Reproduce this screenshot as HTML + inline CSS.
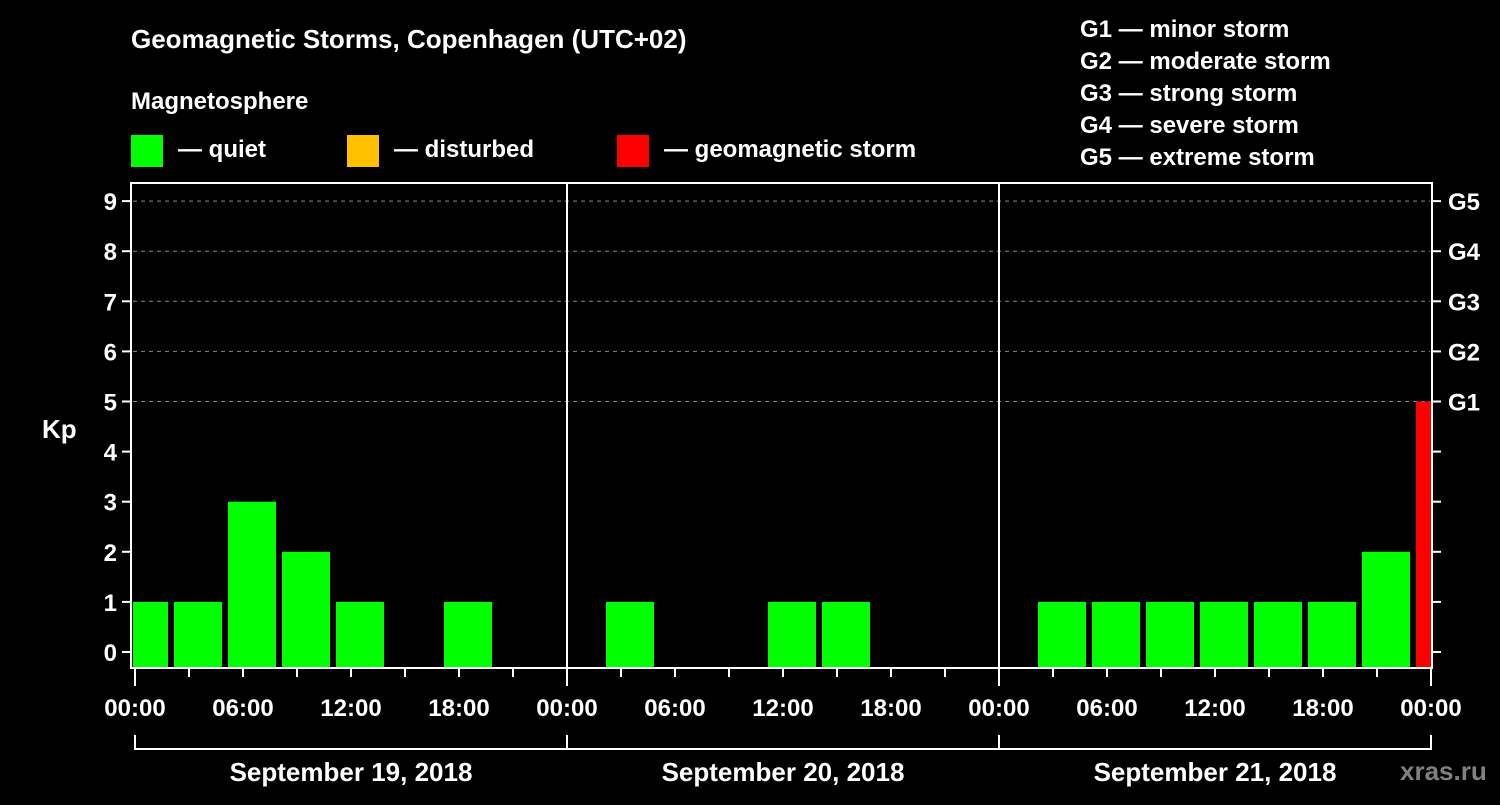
<!DOCTYPE html>
<html><head><meta charset="utf-8"><style>
body{margin:0;background:#000;width:1500px;height:800px;overflow:hidden;font-family:"Liberation Sans",sans-serif;}
svg text{font-family:"Liberation Sans",sans-serif;font-weight:bold;fill:#fff;}
</style></head><body>
<svg id="chart" width="1500" height="800">
<text x="131" y="48" font-size="26">Geomagnetic Storms, Copenhagen (UTC+02)</text>
<text x="131" y="109" font-size="24">Magnetosphere</text>
<g><rect x="131" y="135" width="32" height="32" fill="#00ff00"/><text x="178" y="157" font-size="24">— quiet</text></g>
<g><rect x="347" y="135" width="32" height="32" fill="#ffc000"/><text x="394" y="157" font-size="24">— disturbed</text></g>
<g><rect x="617" y="135" width="32" height="32" fill="#ff0000"/><text x="664" y="157" font-size="24">— geomagnetic storm</text></g>
<g font-size="24">
<text x="1080" y="37">G1 — minor storm</text>
<text x="1080" y="69">G2 — moderate storm</text>
<text x="1080" y="101">G3 — strong storm</text>
<text x="1080" y="133">G4 — severe storm</text>
<text x="1080" y="165">G5 — extreme storm</text>
</g>
<text x="42" y="438" font-size="26">Kp</text>
<text x="1400" y="780" font-size="26" fill="#808080" style="fill:#808080">xras.ru</text>
<g id="grid"></g><g id="bars"></g><g id="axes"></g>
</svg>
<script>
const kpValues=[1,1,3,2,1,0,1,0,0,1,0,0,1,1,0,0,0,1,1,1,1,1,1,2,5];
const yTicks=[0,1,2,3,4,5,6,7,8,9];
const gLabels=["G1","G2","G3","G4","G5"];
const xTickLabels=["00:00","06:00","12:00","18:00","00:00","06:00","12:00","18:00","00:00","06:00","12:00","18:00","00:00"];
const dayLabels=["September 19, 2018","September 20, 2018","September 21, 2018"];
const NS="http://www.w3.org/2000/svg";
const L=131,R=1432,T=183,B=668,X0=135,HPX=18;
const y=v=>652-v*50.1;
const x=h=>X0+h*HPX;
function mk(tag,attrs,parent){const e=document.createElementNS(NS,tag);for(const k in attrs)e.setAttribute(k,attrs[k]);parent.appendChild(e);return e;}
const grid=document.getElementById('grid'),bars=document.getElementById('bars'),axes=document.getElementById('axes');
mk('rect',{x:L,y:T,width:R-L,height:B-T,fill:'none',stroke:'#fff','stroke-width':2},axes);
yTicks.forEach(v=>{
 if(v>=5){const g=mk('line',{x1:L+2,x2:R-2,y1:y(v),y2:y(v),stroke:'#888','stroke-dasharray':'4,4','stroke-width':1},grid);
 
 }
 mk('line',{x1:L-9,x2:L,y1:y(v),y2:y(v),stroke:'#fff','stroke-width':2},axes);
 mk('line',{x1:R,x2:R+9,y1:y(v),y2:y(v),stroke:'#fff','stroke-width':2},axes);
 const t=mk('text',{x:L-14,y:y(v)+9,'font-size':24,'text-anchor':'end'},axes);t.textContent=v;
 
 
});
gLabels.forEach((g,i)=>{const t=mk('text',{x:R+16,y:y(5+i)+9,'font-size':24},axes);t.textContent=g;
 
 });
const clip=mk('clipPath',{id:'pc'},bars);mk('rect',{x:L+2,y:T,width:R-L-3,height:B-T},clip);
kpValues.forEach((v,i)=>{
 if(v<=0)return;
 const c=x(3*i+0.5);
 const r=mk('rect',{x:c-24,y:y(v),width:48,height:B-1-y(v),fill:v>=5?'#ff0000':(v>=4?'#ffc000':'#00ff00'),'clip-path':'url(#pc)'},bars);
 
 
});
for(let d=1;d<3;d++)mk('line',{x1:x(24*d),x2:x(24*d),y1:T,y2:B,stroke:'#fff','stroke-width':2},axes);
for(let h=0;h<=72;h+=3){
 const major=h%24===0;
 mk('line',{x1:x(h),x2:x(h),y1:B,y2:B+(major?18:9),stroke:'#fff','stroke-width':2},axes);
}
xTickLabels.forEach((s,i)=>{const t=mk('text',{x:x(i*6),y:716,'font-size':24,'text-anchor':'middle'},axes);t.textContent=s;
 
 });
mk('polyline',{points:`${x(0)},735 ${x(0)},749 ${x(72)},749 ${x(72)},735`,fill:'none',stroke:'#fff','stroke-width':2},axes);
dayLabels.forEach((s,i)=>{
 if(i>0)mk('line',{x1:x(24*i),x2:x(24*i),y1:735,y2:749,stroke:'#fff','stroke-width':2},axes);
 const t=mk('text',{x:x(24*i+12),y:781,'font-size':26,'text-anchor':'middle'},axes);t.textContent=s;
 
 
});
</script>
</body></html>
